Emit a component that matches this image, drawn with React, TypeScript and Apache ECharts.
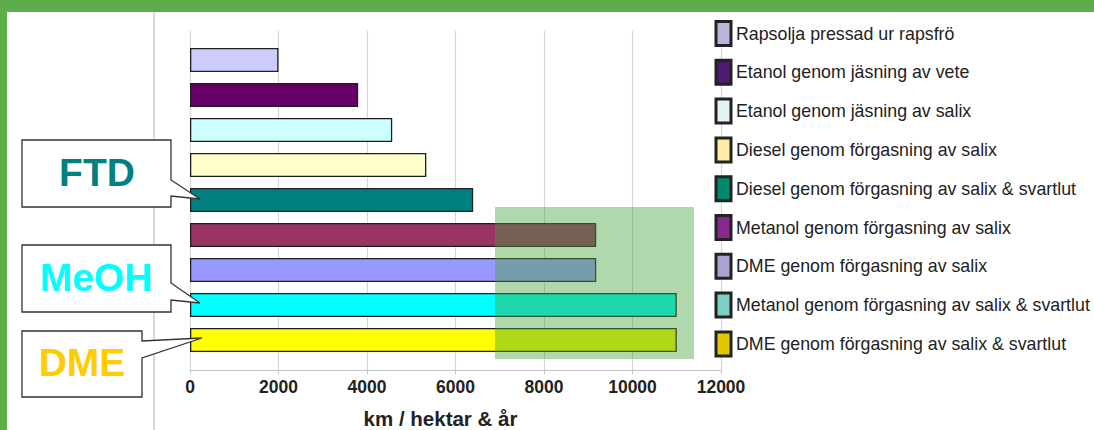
import React, { useEffect, useRef } from "react";
import * as echarts from "echarts";

// ---------- data ----------
const categories = [
  "Rapsolja pressad ur rapsfrö",
  "Etanol genom jäsning av vete",
  "Etanol genom jäsning av salix",
  "Diesel genom förgasning av salix",
  "Diesel genom förgasning av salix & svartlut",
  "Metanol genom förgasning av salix",
  "DME genom förgasning av salix",
  "Metanol genom förgasning av salix & svartlut",
  "DME genom förgasning av salix & svartlut",
];
const values = [2000, 3800, 4570, 5340, 6400, 9180, 9180, 11000, 11000];
const barColors = ["#CCCCFF", "#660066", "#CCFFFF", "#FFFFCC", "#008080", "#993366", "#9999FF", "#00FFFF", "#FFFF00"];
const legendColors = ["#B9B4DA", "#4C1A70", "#E0F2F4", "#FFEBA6", "#00896F", "#86298F", "#AAA3CF", "#7DCEC3", "#E2C700"];
const xMin = 0;
const xMax = 12000;
const xInterval = 2000;
const axisTitle = "km / hektar & år";
const calloutLabels = ["FTD", "MeOH", "DME"];
const calloutColors = ["#008080", "#00FFFF", "#FFCC00"];

export default function App() {
  const ref = useRef<HTMLDivElement>(null);

  useEffect(() => {
    if (!ref.current) return;
    const fam = "'Liberation Sans', Arial, sans-serif";

    const chart = echarts.init(ref.current, undefined, { renderer: "svg" });

    const series = categories.map((name, i) => ({
      name,
      type: "bar" as const,
      xAxisIndex: 0,
      yAxisIndex: 0,
      barWidth: 24,
      barGap: "-100%",
      z: 2,
      itemStyle: { color: barColors[i], borderColor: "#1e1e1e", borderWidth: 1.3 },
      data: categories.map((_, j) => (j === i ? values[i] : "-")),
    }));

    const callBoxes = [
      [[22, 140], [171, 140], [171, 180], [200, 199], [171, 196], [171, 207], [22, 207]],
      [[22, 245], [171, 245], [171, 283], [200, 303], [171, 300], [171, 312], [22, 312]],
      [[22, 331], [142, 331], [142, 341], [202, 338], [142, 358], [142, 397], [22, 397]],
    ];
    const callText = [
      [97, 172],
      [96, 277],
      [82, 362],
    ];

    const graphics: any[] = [
      { type: "rect", shape: { x: 0, y: 0, width: 1094, height: 12 }, style: { fill: "#5DAD4B" }, z: 50 },
      { type: "rect", shape: { x: 0, y: 0, width: 7, height: 430 }, style: { fill: "#5DAD4B" }, z: 50 },
      { type: "line", shape: { x1: 154, y1: 12, x2: 154, y2: 430 }, style: { stroke: "#d9d9d9", lineWidth: 2 }, z: 1 },
      {
        type: "rect",
        shape: { x: 495, y: 207, width: 199, height: 152 },
        style: { fill: "rgba(70,160,60,0.42)" },
        z: 20,
      },
    ];
    callBoxes.forEach((pts, i) => {
      graphics.push({
        type: "polygon",
        shape: { points: pts },
        style: { fill: "#fff", stroke: "#333", lineWidth: 1.3 },
        z: 30,
      });
      graphics.push({
        type: "text",
        x: callText[i][0],
        y: callText[i][1],
        style: {
          text: calloutLabels[i],
          fill: calloutColors[i],
          font: "bold 39px 'Liberation Sans', Arial, sans-serif",
          align: "center",
          verticalAlign: "middle",
        },
        z: 31,
      });
    });

    chart.setOption({
      animation: false,
      backgroundColor: "#fff",
      grid: [
        { left: 190, width: 531, top: 42.5, height: 315, outerBoundsMode: "none", containLabel: false },
        { left: 190, width: 531, top: 31, height: 339, outerBoundsMode: "none", containLabel: false },
      ],
      xAxis: [
        { gridIndex: 0, type: "value", min: xMin, max: xMax, show: false },
        {
          gridIndex: 1,
          type: "value",
          min: xMin,
          max: xMax,
          interval: xInterval,
          name: axisTitle,
          nameLocation: "middle",
          nameGap: 38,
          nameTextStyle: {
            fontFamily: fam,
            fontWeight: "bold",
            fontSize: 20.5,
            color: "#222",
            padding: [0, 30, 0, 0],
          },
          axisLine: { show: true, onZero: false, lineStyle: { color: "#c4c4c4", width: 1.2 } },
          axisTick: { show: true, length: 4, lineStyle: { color: "#c4c4c4" } },
          splitLine: { show: true, lineStyle: { color: "#d6d6d6", width: 1.2 } },
          axisLabel: {
            fontFamily: fam,
            fontWeight: "bold",
            fontSize: 17.5,
            color: "#222",
            margin: 8,
            formatter: (v: number) => String(v),
          },
        },
      ],
      yAxis: [
        { gridIndex: 0, type: "category", data: categories, inverse: true, show: false },
        { gridIndex: 1, type: "value", min: 0, max: 1, show: false },
      ],
      legend: {
        orient: "vertical",
        left: 709.5,
        top: 15,
        itemWidth: 15,
        itemHeight: 24,
        itemGap: 11.8,
        icon: "rect",
        selectedMode: false,
        itemStyle: { borderColor: "#222", borderWidth: 3 },
        textStyle: {
          fontFamily: fam,
          fontSize: 17.8,
          color: "#222",
          lineHeight: 24,
        },
        data: categories.map((name, i) => ({ name, itemStyle: { color: legendColors[i] } })),
      },
      graphic: graphics,
      series,
    });

    return () => chart.dispose();
  }, []);

  return (
    <div
      ref={ref}
      style={{ position: "fixed", left: 0, top: 0, width: 1094, height: 430, background: "#fff" }}
    />
  );
}
